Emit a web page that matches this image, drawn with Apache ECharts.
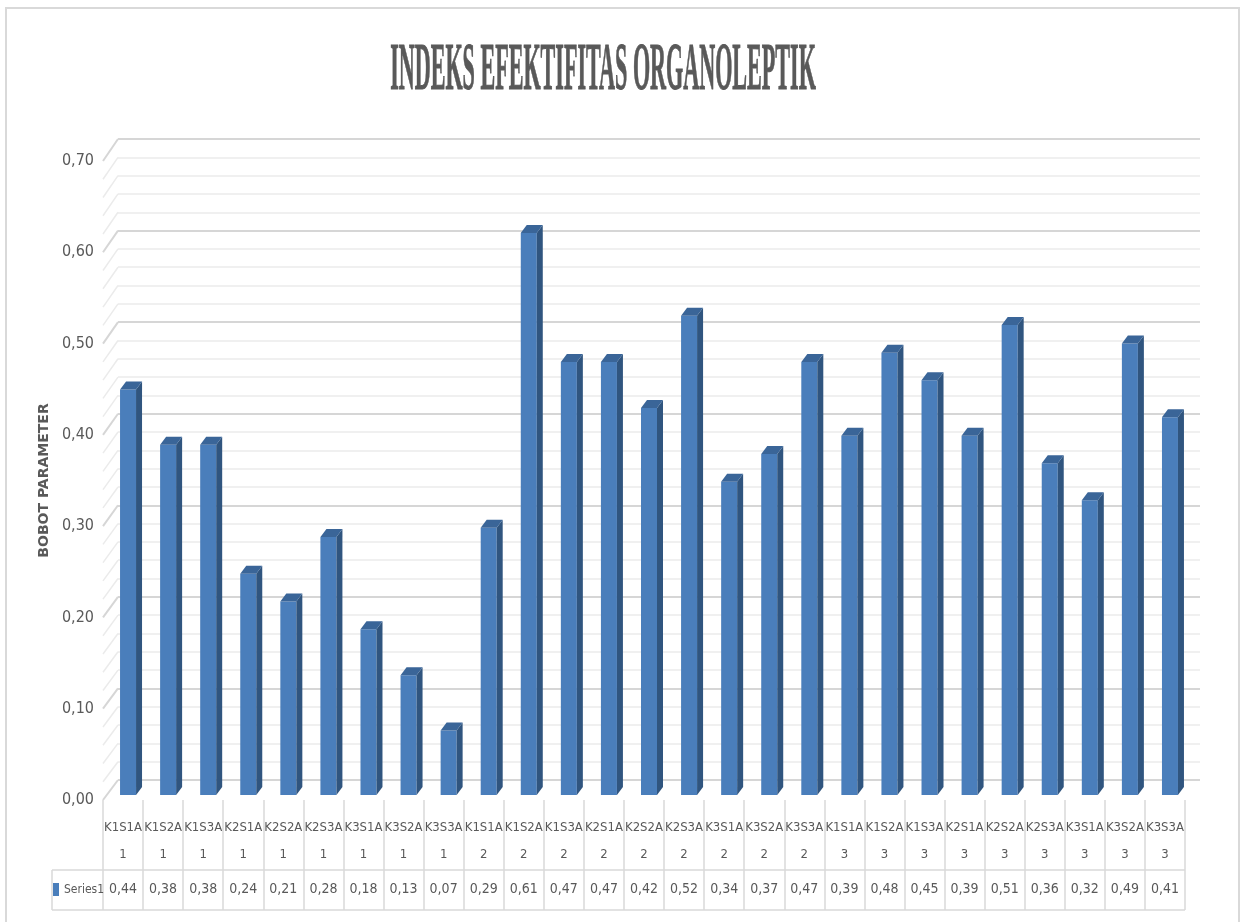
<!DOCTYPE html>
<html>
<head>
<meta charset="utf-8">
<script src="https://cdn.jsdelivr.net/npm/echarts@6/dist/echarts.min.js"></script>
<style>
html,body{margin:0;padding:0;background:#fff;overflow:hidden;}
#chart{width:1245px;height:922px;}
</style>
</head>
<body>
<div id="chart"></div>
<script>
// ---- data ----
const categories = ['K1S1A','K1S2A','K1S3A','K2S1A','K2S2A','K2S3A','K3S1A','K3S2A','K3S3A',
                    'K1S1A','K1S2A','K1S3A','K2S1A','K2S2A','K2S3A','K3S1A','K3S2A','K3S3A',
                    'K1S1A','K1S2A','K1S3A','K2S1A','K2S2A','K2S3A','K3S1A','K3S2A','K3S3A'];
const replicates = ['1','1','1','1','1','1','1','1','1',
                    '2','2','2','2','2','2','2','2','2',
                    '3','3','3','3','3','3','3','3','3'];
const series1 = [0.44,0.38,0.38,0.24,0.21,0.28,0.18,0.13,0.07,
                 0.29,0.61,0.47,0.47,0.42,0.52,0.34,0.37,0.47,
                 0.39,0.48,0.45,0.39,0.51,0.36,0.32,0.49,0.41];
const seriesName = 'Series1';
const titleText = 'INDEKS EFEKTIFITAS ORGANOLEPTIK';
const yAxisTitle = 'BOBOT PARAMETER';
const yMin = 0, yMax = 0.7, yStep = 0.1, yMinorSplit = 5;

// ---- style ----
const NARROW = "'Liberation Sans Narrow','Arial Narrow','DejaVu Sans Condensed','Liberation Sans',sans-serif";
const TXT = '#595959';
const fmt = v => Number(v).toFixed(2).replace('.', ',');

const chart = echarts.init(document.getElementById('chart'), null, {renderer: 'canvas'});

const BACK_LEFT = 118;
const grids = [
  {left: 118, top: 139, width: 1082, height: 641, outerBoundsMode: 'none', containLabel: false}, // back wall
  {left: 103, top: 161, width: 1082, height: 639, outerBoundsMode: 'none', containLabel: false}, // labels & table
  {left: 108, top: 150, width: 1082, height: 645, outerBoundsMode: 'none', containLabel: false}  // bars (front plane)
];

const option = {
  backgroundColor: '#ffffff',
  animation: false,
  grid: grids,
  legend: {
    data: [seriesName], left: 53, top: 883, padding: 0, itemGap: 0,
    itemWidth: 6, itemHeight: 13, icon: 'rect', selectedMode: false,
    textStyle: {fontFamily: NARROW, fontSize: 12, color: TXT}
  },
  xAxis: [
    {gridIndex: 0, type: 'value', min: 0, max: 1, show: false},
    {gridIndex: 1, type: 'category', data: categories, position: 'bottom', boundaryGap: true,
     axisLine: {show: false},
     axisTick: {show: true, interval: 0, length: 110, lineStyle: {color: '#d9d9d9', width: 1.5}},
     axisLabel: {interval: 0, margin: 14, lineHeight: 27, fontFamily: NARROW, fontSize: 13, color: TXT,
                 formatter: (val, idx) => val + '\n' + replicates[idx]},
     splitLine: {show: false}},
    {gridIndex: 1, type: 'category', data: series1.map(fmt), position: 'bottom', offset: 70, boundaryGap: true,
     axisLine: {show: false}, axisTick: {show: false}, splitLine: {show: false},
     axisLabel: {interval: 0, margin: 12, fontFamily: NARROW, fontSize: 14, color: TXT}},
    {gridIndex: 2, type: 'category', data: categories, show: false, boundaryGap: true}
  ],
  yAxis: [
    {gridIndex: 0, type: 'value', min: yMin, max: yMax, interval: yStep,
     axisLine: {show: false}, axisTick: {show: false}, axisLabel: {show: false},
     splitLine: {show: true, lineStyle: {color: '#d6d6d6', width: 2}},
     minorTick: {show: false, splitNumber: yMinorSplit},
     minorSplitLine: {show: true, lineStyle: {color: '#ebebeb', width: 1.5}}},
    {gridIndex: 1, type: 'value', min: yMin, max: yMax, interval: yStep,
     axisLine: {show: false}, axisTick: {show: false}, splitLine: {show: false},
     axisLabel: {margin: 9, fontFamily: NARROW, fontSize: 16, color: TXT, formatter: v => fmt(v)},
     name: yAxisTitle, nameLocation: 'middle', nameGap: 50, nameRotate: 90,
     nameTextStyle: {fontFamily: "'DejaVu Sans','Liberation Sans',Arial,sans-serif", fontWeight: 'bold', fontSize: 14, color: TXT}},
    {gridIndex: 2, type: 'value', min: yMin, max: yMax, show: false, splitLine: {show: false}}
  ],
  graphic: [
    {type: 'rect', silent: true, z: -10, shape: {x: 6, y: 8, width: 1233, height: 940},
     style: {fill: 'none', stroke: '#d9d9d9', lineWidth: 2}},
    {type: 'text', silent: true, x: 603, y: 71, scaleX: 0.325, scaleY: 1,
     style: {text: titleText, font: "bold 68px 'Liberation Serif','Times New Roman',serif",
             fill: TXT, stroke: TXT, lineWidth: 1, align: 'center', verticalAlign: 'middle',
             textAlign: 'center', textVerticalAlign: 'middle'}},
    {type: 'line', silent: true, shape: {x1: 52, y1: 870, x2: 1185, y2: 870}, style: {stroke: '#d9d9d9', lineWidth: 1.5}},
    {type: 'line', silent: true, shape: {x1: 52, y1: 910, x2: 1185, y2: 910}, style: {stroke: '#d9d9d9', lineWidth: 1.5}},
    {type: 'line', silent: true, shape: {x1: 52, y1: 870, x2: 52, y2: 910}, style: {stroke: '#d9d9d9', lineWidth: 1.5}}
  ],
  series: [
    {
      type: 'custom', name: 'sidewall', xAxisIndex: 1, yAxisIndex: 1, silent: true, clip: false, z: 0,
      data: [0],
      renderItem: function (params, api) {
        const cs = params.coordSys;
        const children = [];
        const steps = Math.round((yMax - yMin) / yStep * yMinorSplit);
        for (let k = 0; k <= steps; k++) {
          const v = yMin + k * yStep / yMinorSplit;
          const y1 = api.coord([0, v])[1];
          let y2 = y1 - 22;
          try { const p = chart.convertToPixel({yAxisIndex: 0}, v); if (isFinite(p)) y2 = p; } catch (e) {}
          const major = (k % yMinorSplit === 0);
          children.push({type: 'line', shape: {x1: cs.x, y1: y1, x2: BACK_LEFT, y2: y2},
                         style: {stroke: major ? '#d6d6d6' : '#ebebeb', lineWidth: major ? 2 : 1.5}});
        }
        return {type: 'group', children: children};
      }
    },
    {
      type: 'custom', name: seriesName, xAxisIndex: 3, yAxisIndex: 2, clip: false, z: 5,
      itemStyle: {color: '#4a7ebb'},
      encode: {x: 0, y: 1},
      data: series1.map((v, i) => [i, v]),
      renderItem: function (params, api) {
        const i = api.value(0), v = api.value(1);
        const top = api.coord([i, v]);
        const base = api.coord([i, 0]);
        const cx = top[0], w = 8, dx = 6, dy = 8;
        return {
          type: 'group',
          children: [
            {type: 'rect', shape: {x: cx - w, y: top[1], width: 2 * w, height: base[1] - top[1]},
             style: {fill: '#4a7ebb'}},
            {type: 'polygon', shape: {points: [[cx + w, top[1]], [cx + w + dx, top[1] - dy], [cx + w + dx, base[1] - dy], [cx + w, base[1]]]},
             style: {fill: '#30557f'}},
            {type: 'polygon', shape: {points: [[cx - w, top[1]], [cx - w + dx, top[1] - dy], [cx + w + dx, top[1] - dy], [cx + w, top[1]]]},
             style: {fill: '#3a6598'}}
          ]
        };
      }
    }
  ]
};
chart.setOption(option);
</script>
</body>
</html>
